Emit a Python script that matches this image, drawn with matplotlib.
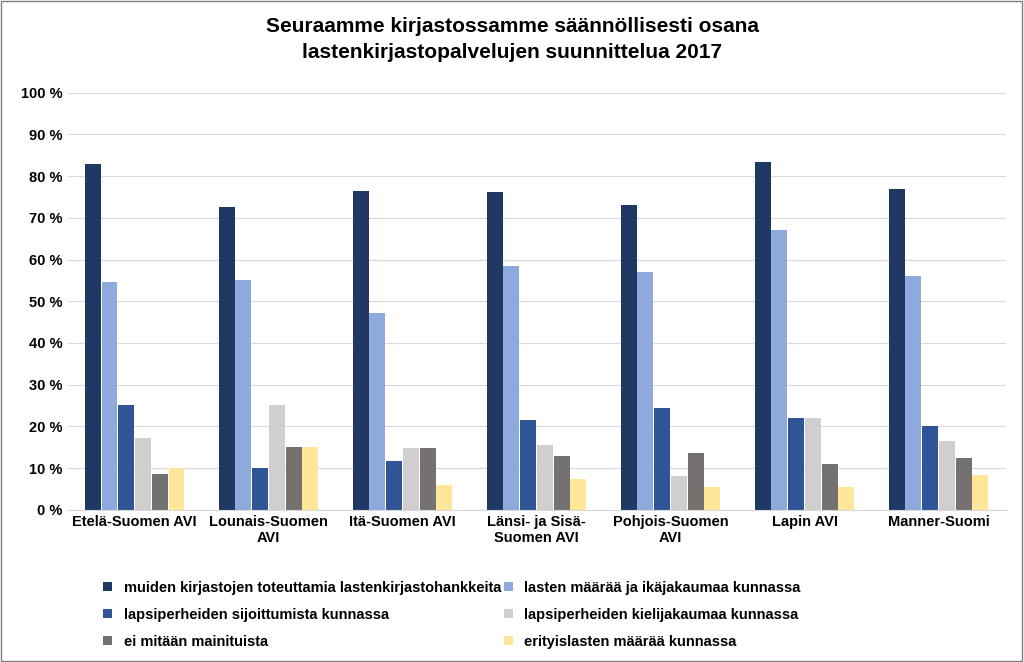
import matplotlib
matplotlib.use("Agg")
import matplotlib.pyplot as plt
import numpy as np

plt.rcParams["font.family"] = "Liberation Sans"
plt.rcParams["font.weight"] = "bold"

categories = ["Etelä-Suomen AVI", "Lounais-Suomen\nAVI", "Itä-Suomen AVI", "Länsi- ja Sisä-\nSuomen AVI",
              "Pohjois-Suomen\nAVI", "Lapin AVI", "Manner-Suomi"]
series_names = ["muiden kirjastojen toteuttamia lastenkirjastohankkeita",
                "lasten määrää ja ikäjakaumaa kunnassa",
                "lapsiperheiden sijoittumista kunnassa",
                "lapsiperheiden kielijakaumaa kunnassa",
                "ei mitään mainituista",
                "erityislasten määrää kunnassa"]
s1 = [83.0, 72.5, 76.5, 76.3, 73.0, 83.3, 77.0]
s2 = [54.5, 55.0, 47.1, 58.5, 57.0, 67.0, 56.0]
s3 = [25.0, 10.0, 11.8, 21.5, 24.3, 22.0, 20.0]
s4 = [17.2, 25.0, 14.8, 15.5, 8.0, 22.0, 16.5]
s5 = [8.6, 15.0, 14.8, 13.0, 13.5, 11.0, 12.5]
s6 = [10.0, 15.0, 6.0, 7.3, 5.5, 5.5, 8.3]
colors = ["#1F3864", "#8EA9DB", "#2F5597", "#D0CECE", "#767171", "#FFE699"]

fig = plt.figure(figsize=(10.24, 6.62), dpi=100)
ax = fig.add_axes([0.066, 0.23, 0.916, 0.63])
x = np.arange(len(categories))
w = 0.125
handles = []
for i, (vals, c, n) in enumerate(zip([s1, s2, s3, s4, s5, s6], colors, series_names)):
    handles.append(ax.bar(x + (i - 2.5) * w, vals, w * 0.95, color=c, label=n))
ax.set_xlim(-0.5, len(categories) - 0.5)
ax.set_ylim(0, 100)
ax.set_yticks(range(0, 101, 10))
ax.set_yticklabels([f"{v} %" for v in range(0, 101, 10)], fontsize=10.5)
ax.set_xticks(x)
ax.set_xticklabels(categories, fontsize=10.5)
ax.tick_params(length=0)
ax.grid(axis="y", color="#D9D9D9", lw=0.8)
ax.set_axisbelow(True)
for s in ["top", "right", "left"]:
    ax.spines[s].set_visible(False)
ax.spines["bottom"].set_color("#D9D9D9")
fig.suptitle("Seuraamme kirjastossamme säännöllisesti osana\nlastenkirjastopalvelujen suunnittelua 2017",
             fontsize=15, fontweight="bold", y=0.975, linespacing=1.5)
order = [0, 2, 4, 1, 3, 5]
fig.legend([handles[i] for i in order], [series_names[i] for i in order],
           loc="lower left", bbox_to_anchor=(0.088, 0.0), ncol=2, frameon=False, fontsize=10.5,
           handlelength=0.6, handleheight=0.6, columnspacing=0.2, labelspacing=0.9)
fig.patches.append(plt.Rectangle((0.001, 0.001), 0.997, 0.997, transform=fig.transFigure,
                                 fill=False, edgecolor="#7F7F7F", lw=1))
fig.savefig("out.png", dpi=100)
